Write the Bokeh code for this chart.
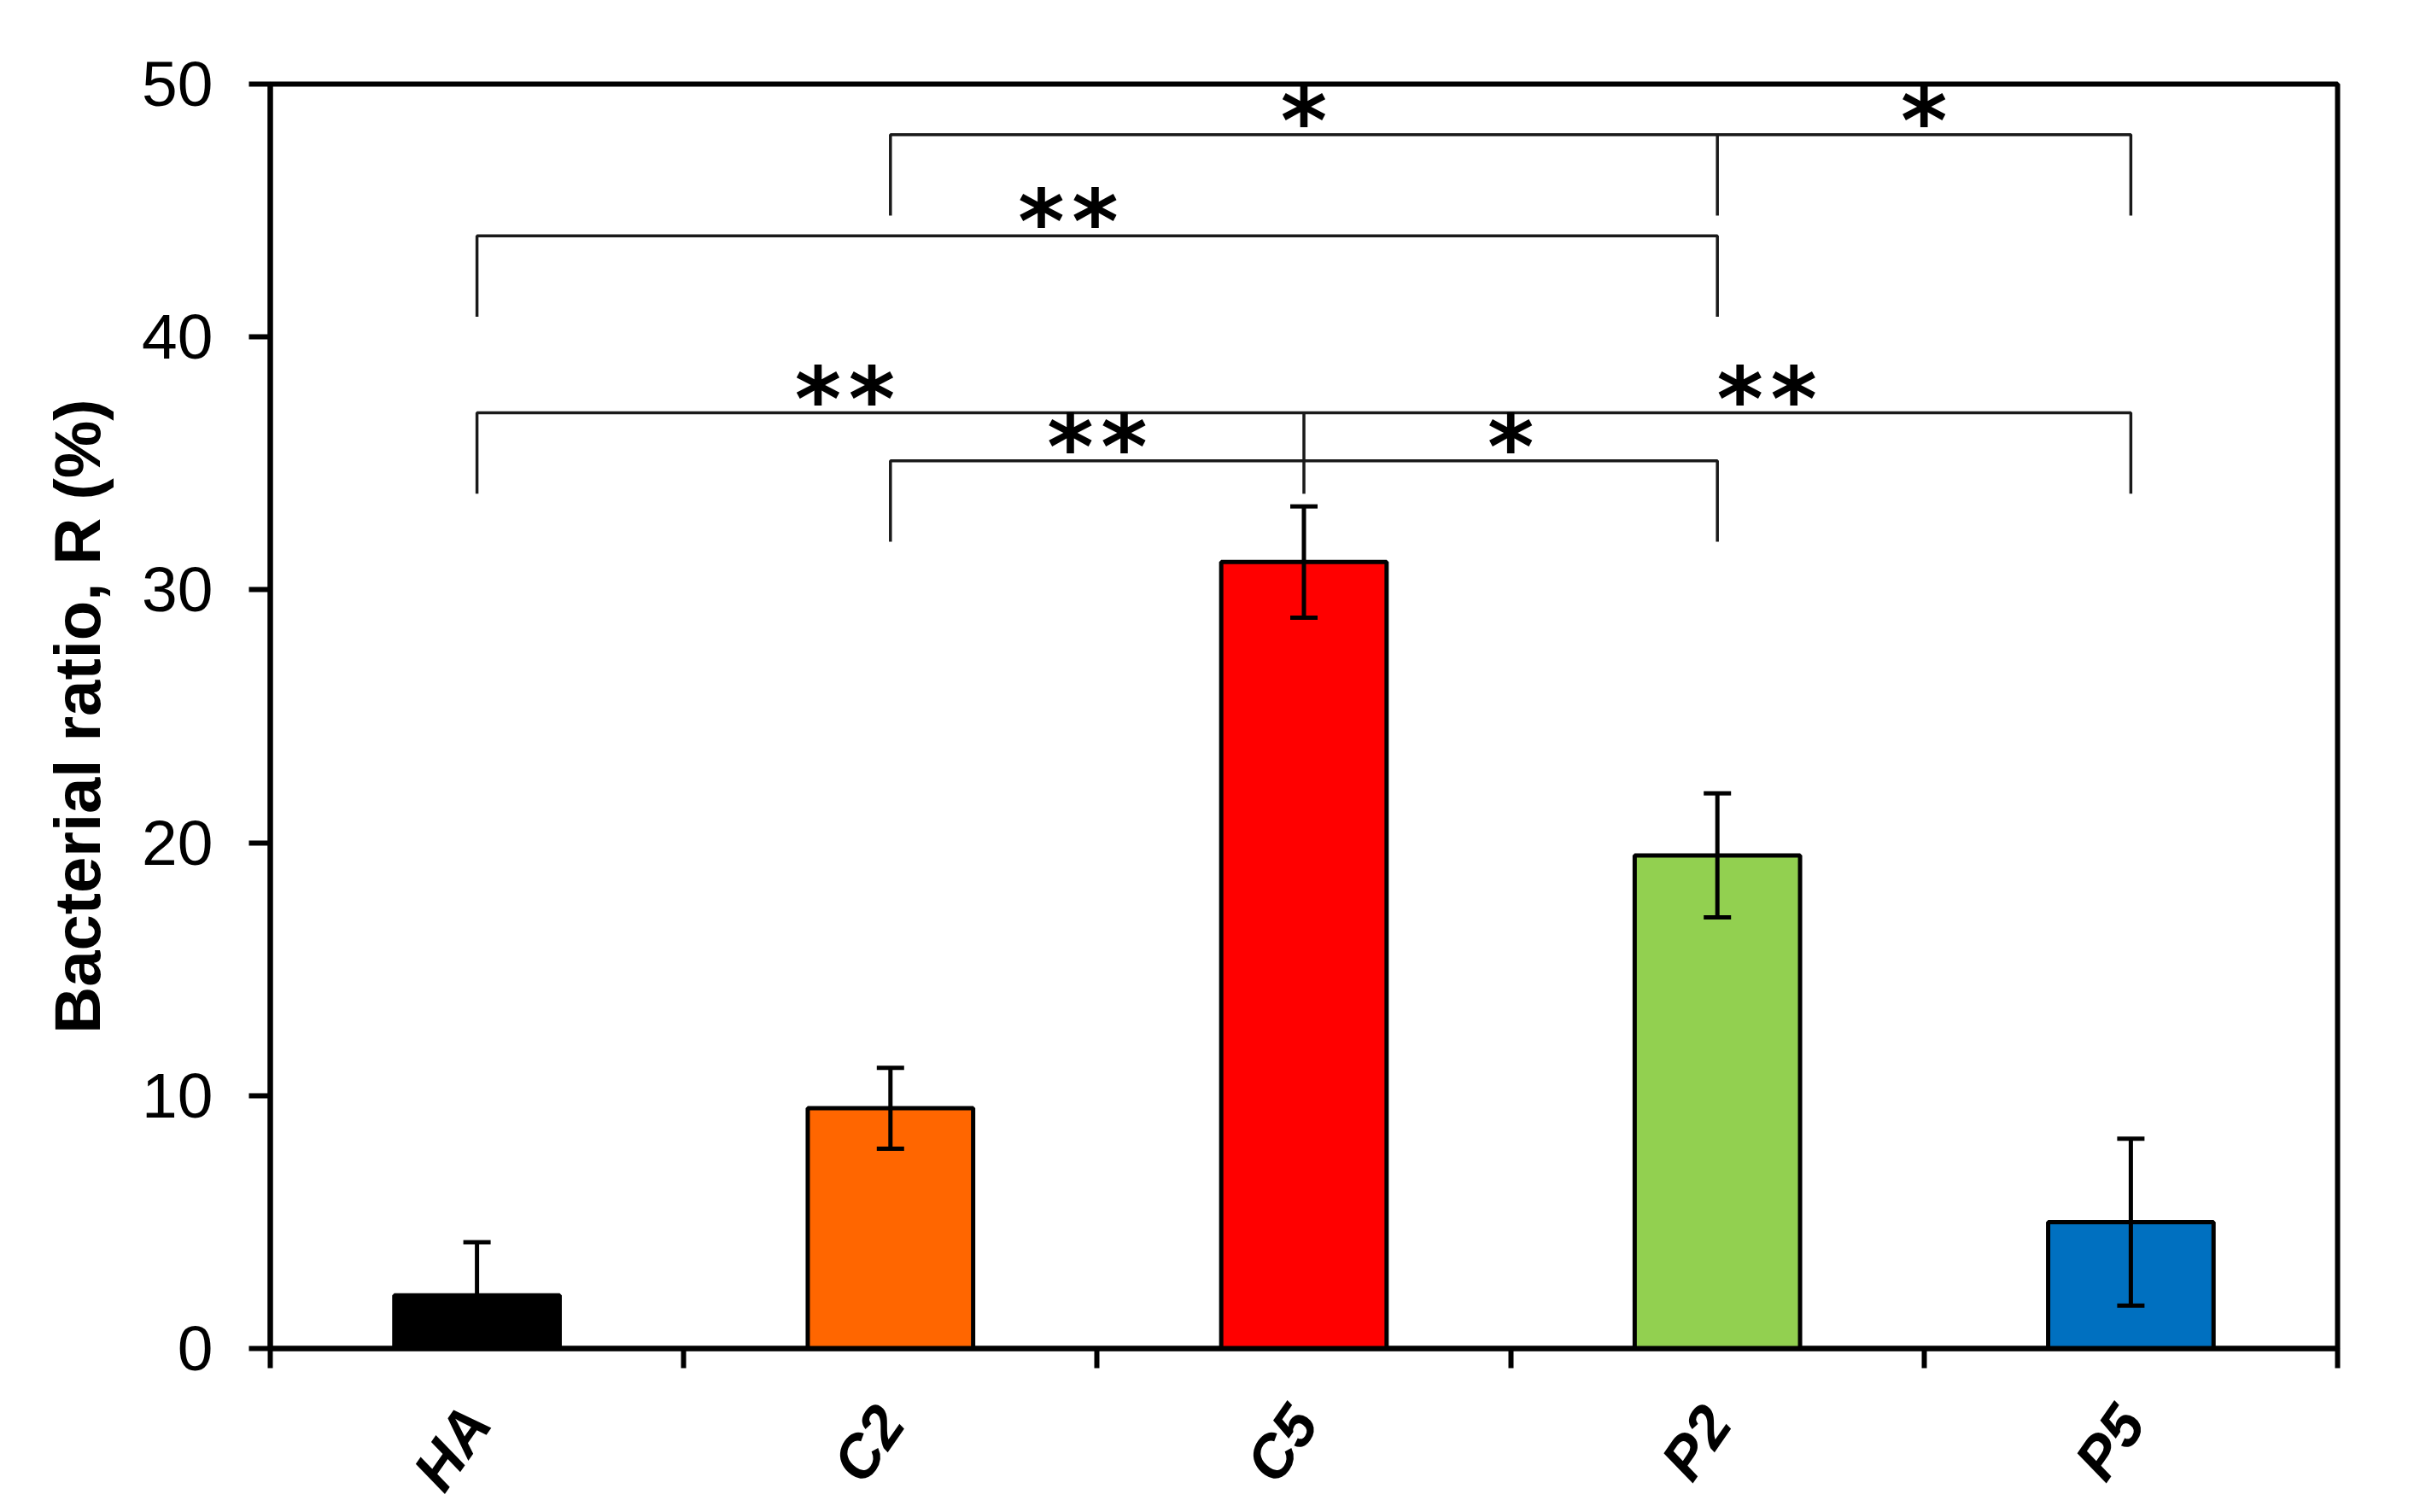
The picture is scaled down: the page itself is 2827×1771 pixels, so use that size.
import numpy as np
from bokeh.plotting import figure
from bokeh.models import ColumnDataSource, Whisker, TeeHead, FixedTicker, Range1d
from bokeh.embed import file_html
from bokeh.resources import INLINE
from bokeh.core.properties import value

# ---------------- data ----------------
categories = ["HA", "C2", "C5", "P2", "P5"]
ratio = [2.1, 9.5, 31.1, 19.5, 5.0]          # bacterial ratio R (%)
sd = [2.1, 1.6, 2.2, 2.45, 3.3]              # error bars
colors = ["#000000", "#FF6600", "#FF0000", "#92D050", "#0070C0"]
y_ticks = [0, 10, 20, 30, 40, 50]

# significance brackets: (first group, last group, level, groups with a drop line)
brackets = [
    ("C2", "P5", 48.0, ["C2", "P2", "P5"]),
    ("HA", "P2", 44.0, ["HA", "P2"]),
    ("HA", "P5", 37.0, ["HA", "C5", "P5"]),
    ("C2", "P2", 35.1, ["C2", "P2"]),
]
# significance marks: (text, x position in category units, bracket level)
marks = [
    ("*", 2.5, 48.0), ("*", 4.0, 48.0),
    ("**", 1.93, 44.0),
    ("**", 1.39, 37.0), ("**", 3.62, 37.0),
    ("**", 2.0, 35.1), ("*", 3.0, 35.1),
]

# ---------------- layout ----------------
FONT = "Liberation Sans"
FRAME_W, FRAME_H = 2421, 1481
Y_MAX = 50
PX_PER_Y = FRAME_H / Y_MAX
PX_PER_X = FRAME_W / len(categories)
DROP = 3.2

pos = {c: i + 0.5 for i, c in enumerate(categories)}
xs = [pos[c] for c in categories]

p = figure(x_range=Range1d(0, len(categories)), y_range=Range1d(0, Y_MAX),
           frame_width=FRAME_W, frame_height=FRAME_H,
           min_border_left=316, min_border_top=98, min_border_right=72, min_border_bottom=175,
           output_backend="svg", toolbar_location=None)
p.background_fill_color = "white"
p.border_fill_color = "white"
p.xgrid.visible = False
p.ygrid.visible = False
p.outline_line_color = "black"
p.outline_line_width = 6
p.outline_line_alpha = 1

src = ColumnDataSource(dict(x=xs, top=ratio, color=colors,
                            upper=[r + s for r, s in zip(ratio, sd)],
                            lower=[max(r - s, 0) for r, s in zip(ratio, sd)]))
p.vbar(x="x", top="top", bottom=0, width=0.40, fill_color="color",
       line_color="black", line_width=5, source=src)

wh = Whisker(base="x", upper="upper", lower="lower", source=src,
             line_color="black", line_width=5,
             upper_head=TeeHead(size=32, line_width=5, line_color="black"),
             lower_head=TeeHead(size=32, line_width=5, line_color="black"))
wh.level = "overlay"
p.add_layout(wh)

# brackets
ml_x, ml_y = [], []
sx0, sy0, sx1, sy1 = [], [], [], []
for a, b, lvl, drops in brackets:
    xa, xb = pos[a], pos[b]
    ml_x.append([xa, xa, xb, xb])
    ml_y.append([lvl - DROP, lvl, lvl, lvl - DROP])
    for d in drops:
        if d not in (a, b):
            sx0.append(pos[d]); sx1.append(pos[d])
            sy0.append(lvl); sy1.append(lvl - DROP)
p.multi_line(ml_x, ml_y, line_color="#1a1a1a", line_width=3.5)
p.segment(sx0, sy0, sx1, sy1, line_color="#1a1a1a", line_width=3.5)

# stars, one glyph per star so that the spacing matches
STAR_GAP = 63 / PX_PER_X
STAR_UP = 16 / PX_PER_Y
st_x, st_y, st_t = [], [], []
for txt, mx, lvl in marks:
    n = len(txt)
    for k in range(n):
        st_x.append(mx + (k - (n - 1) / 2) * STAR_GAP)
        st_y.append(lvl + STAR_UP)
        st_t.append("*")
p.text(x=st_x, y=st_y, text=st_t,
       text_font=value("DejaVu Sans"), text_font_size=value("104px"), text_font_style="bold",
       text_align="center", text_baseline="alphabetic", text_color="black")

# axes
ya = p.yaxis[0]
ya.ticker = FixedTicker(ticks=y_ticks, minor_ticks=[])
ya.axis_line_width = 6
ya.axis_line_color = "black"
ya.major_tick_line_width = 6
ya.major_tick_line_color = "black"
ya.major_tick_out = 25
ya.major_tick_in = 0
ya.minor_tick_line_color = None
ya.major_label_text_font = FONT
ya.major_label_text_font_size = "75px"
ya.major_label_text_color = "black"
ya.major_label_standoff = 42
ya.axis_label = "Bacterial ratio, R (%)"
ya.axis_label_text_font = FONT
ya.axis_label_text_font_style = "bold"
ya.axis_label_text_font_size = "76px"
ya.axis_label_text_color = "black"
ya.axis_label_standoff = 30

xa = p.xaxis[0]
xa.ticker = FixedTicker(ticks=xs, minor_ticks=list(range(len(categories) + 1)))
xa.major_label_overrides = {x: c for x, c in zip(xs, categories)}
xa.axis_line_width = 6
xa.axis_line_color = "black"
xa.major_tick_line_color = None
xa.minor_tick_line_color = "black"
xa.minor_tick_line_width = 6
xa.minor_tick_out = 23
xa.minor_tick_in = 0
xa.major_label_text_font = FONT
xa.major_label_text_font_style = "bold italic"
xa.major_label_text_font_size = "70px"
xa.major_label_text_color = "black"
xa.major_label_orientation = np.deg2rad(55)
xa.major_label_standoff = 52

open("out.html", "w").write(file_html(p, INLINE))
